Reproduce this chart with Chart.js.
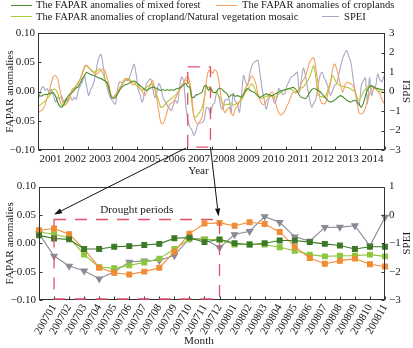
<!DOCTYPE html>
<html><head><meta charset="utf-8">
<script src="https://cdn.jsdelivr.net/npm/chart.js@4/dist/chart.umd.min.js"></script>
<style>
html,body{margin:0;padding:0;background:#fff;}
#wrap{position:relative;width:413px;height:348px;overflow:hidden;font-family:"Liberation Serif","Times New Roman",serif;color:#1a1a1a;}
canvas{position:absolute;left:0;}
.lg{position:absolute;font-size:10.6px;line-height:12px;white-space:nowrap;}
.sw{position:absolute;height:0;border-top:1.2px solid;}
</style></head><body>
<div id="wrap">
 <canvas id="top" width="413" height="178" style="top:0"></canvas>
 <canvas id="bot" width="413" height="172" style="top:176px"></canvas>
 <canvas id="ann" width="413" height="348" style="top:0"></canvas>
 <div class="sw" style="left:11px;top:5px;width:21px;border-color:#4b8b2f"></div>
 <div class="lg" style="left:36px;top:-1px">The FAPAR anomalies of mixed forest</div>
 <div class="sw" style="left:216px;top:5px;width:21px;border-color:#f5a261"></div>
 <div class="lg" style="left:242px;top:-1px">The FAPAR anomalies of croplands</div>
 <div class="sw" style="left:11px;top:16px;width:21px;border-color:#a8cc40"></div>
 <div class="lg" style="left:36px;top:10.5px">The FAPAR anomalies of cropland/Natural vegetation mosaic</div>
 <div class="sw" style="left:322px;top:16px;width:17px;border-color:#a8a8c0"></div>
 <div class="lg" style="left:344px;top:10.5px">SPEI</div>
</div>
<script>
// ---------- DATA ----------
const years = [2001,2002,2003,2004,2005,2006,2007,2008,2009,2010,2011,2012,2013,2014];
// monthly values, Jan 2001 .. Dec 2014
const mixedForest = [
 -0.007,-0.008,-0.006,-0.005,-0.005,-0.004,-0.003,-0.002,-0.008,-0.018,-0.025,-0.027,
 -0.022,-0.015,-0.008,-0.004,-0.002,0.002,0.006,0.008,0.015,0.022,0.027,0.033,
 0.031,0.029,0.028,0.027,0.025,0.023,0.022,0.020,0.018,0.015,0.003,-0.010,
 -0.012,-0.010,-0.004,0.002,0.007,0.010,0.012,0.013,0.015,0.017,0.018,0.016,
 0.013,0.010,0.007,0.004,0.002,0.004,0.006,0.007,0.007,0.005,0.003,0.002,
 0.003,0.002,0.003,0.002,0.003,0.002,0.004,0.005,0.006,0.008,0.011,0.014,
 0.0085,0.007,-0.010,-0.010,-0.006,-0.005,-0.003,-0.001,0.009,0.010,0.002,0.007,
 0.000,-0.002,0.000,0.005,0.005,0.002,-0.001,-0.004,-0.010,-0.006,-0.006,-0.008,
 -0.007,-0.008,-0.010,-0.005,0.002,0.005,0.003,0.000,-0.001,-0.004,-0.008,-0.010,
 -0.008,-0.006,-0.004,-0.005,-0.006,-0.007,-0.005,-0.003,-0.001,0.001,0.002,0.003,
 0.004,0.005,0.006,0.007,0.005,0.000,-0.006,-0.010,-0.011,-0.012,-0.008,-0.002,
 0.003,0.005,0.004,0.002,0.000,-0.004,-0.008,-0.012,-0.016,-0.018,-0.017,-0.015,
 -0.012,-0.009,-0.007,-0.009,-0.012,-0.015,-0.017,-0.018,-0.016,-0.015,-0.018,-0.022,
 -0.027,-0.020,-0.008,0.003,0.008,0.010,0.008,0.006,0.005,0.004,0.003,0.003
];
const croplands = [
 -0.035,-0.033,-0.030,-0.022,-0.010,0.002,0.015,0.026,0.027,0.022,0.005,-0.012,
 -0.024,-0.022,-0.017,-0.010,0.004,0.006,0.008,0.014,0.022,0.032,0.043,0.045,
 0.041,0.037,0.033,0.031,0.030,0.033,0.037,0.039,0.035,0.022,0.010,-0.008,
 -0.010,-0.005,0.000,0.006,0.012,0.020,0.022,0.020,0.018,0.012,0.011,0.016,
 0.012,0.004,0.000,-0.007,-0.002,0.005,0.012,0.019,0.005,-0.012,-0.035,-0.053,
 -0.055,-0.047,-0.035,-0.024,-0.020,-0.018,-0.012,-0.004,0.002,0.010,0.015,0.023,
 0.026,0.016,-0.010,-0.043,-0.052,-0.055,-0.050,-0.043,-0.015,0.017,0.035,0.036,
 0.031,0.037,0.034,0.020,-0.006,-0.026,-0.036,-0.031,-0.027,-0.037,-0.041,-0.030,
 -0.025,-0.018,-0.010,-0.004,0.006,0.013,0.020,0.027,0.022,0.013,-0.005,-0.015,
 -0.021,-0.022,-0.016,-0.010,-0.003,-0.001,-0.012,-0.025,-0.036,-0.040,-0.038,-0.033,
 -0.025,-0.018,-0.008,-0.001,-0.003,0.000,0.005,0.014,0.020,0.026,0.038,0.050,
 0.055,0.058,0.040,0.015,-0.012,-0.020,-0.021,-0.018,0.000,0.012,0.035,0.047,
 0.040,0.025,0.010,-0.001,0.010,0.016,0.015,0.013,0.010,0.000,-0.020,-0.037,
 -0.038,-0.036,-0.028,-0.016,-0.005,0.005,0.007,0.005,0.000,-0.004,-0.014,-0.020
];
const mosaic = [
 -0.024,-0.022,-0.019,-0.016,-0.012,-0.008,-0.002,0.004,0.003,-0.003,-0.015,-0.024,
 -0.022,-0.018,-0.013,-0.007,0.001,0.005,0.010,0.016,0.022,0.030,0.040,0.044,
 0.041,0.038,0.035,0.033,0.035,0.039,0.036,0.030,0.020,0.010,0.002,-0.008,
 -0.010,-0.007,-0.003,0.003,0.010,0.015,0.020,0.022,0.020,0.017,0.014,0.011,
 0.008,0.005,0.002,0.004,0.007,0.010,0.012,0.013,0.005,-0.006,-0.017,-0.027,
 -0.026,-0.022,-0.018,-0.015,-0.012,-0.010,-0.006,-0.002,0.003,0.008,0.014,0.020,
 0.016,0.010,-0.020,-0.042,-0.044,-0.039,-0.034,-0.027,-0.010,0.007,0.007,0.006,
 -0.002,-0.002,-0.002,-0.007,-0.013,-0.020,-0.023,-0.022,-0.022,-0.020,-0.023,-0.022,
 -0.020,-0.018,-0.015,-0.008,-0.001,0.004,0.009,0.013,0.008,0.000,-0.005,-0.010,
 -0.012,-0.010,-0.008,-0.007,-0.008,-0.009,-0.010,-0.009,-0.005,-0.002,0.000,0.003,
 0.004,0.005,0.004,0.002,0.000,-0.001,0.003,0.006,0.008,0.013,0.018,0.025,
 0.035,0.044,0.025,-0.005,-0.008,-0.009,-0.010,-0.006,0.005,0.015,0.027,0.022,
 0.015,0.012,0.010,0.009,0.008,0.007,0.006,0.004,0.002,-0.001,-0.010,-0.015,
 -0.008,-0.001,0.004,0.008,0.010,0.009,0.006,0.004,0.002,0.000,-0.001,-0.001
];
const spei = [
 -0.30,0.10,0.25,0.05,0.15,-0.10,0.10,-0.20,-0.55,-0.30,-0.35,-0.25,
 -0.55,-0.35,-0.50,-0.20,-0.45,-0.30,-0.40,0.05,0.30,0.50,0.80,0.30,
 -0.20,0.10,0.30,0.70,1.30,1.75,1.90,1.35,0.60,0.20,-0.20,-0.40,
 -0.55,-0.65,0.10,0.50,0.45,0.50,0.60,0.55,0.80,1.10,1.40,0.90,
 0.10,-0.20,-0.55,-0.10,0.40,0.55,0.65,0.20,-0.30,-0.05,0.40,0.20,
 -0.30,-0.50,-0.70,-0.85,-0.98,-0.70,-0.45,-0.60,0.20,0.75,0.50,-0.66,
 -1.45,-1.80,-1.97,-2.25,-2.00,-1.66,-1.62,-1.60,-1.43,-0.83,-0.85,-1.15,
 -0.69,-0.575,-0.06,-0.26,-0.77,-0.92,-0.44,-0.43,-0.38,-1.09,-0.08,-0.50,
 -0.60,-1.07,-0.20,0.83,0.50,0.30,0.90,1.30,1.50,1.55,1.60,0.90,
 0.15,-0.40,-0.90,-0.50,-0.20,-0.30,-0.60,-0.40,0.15,0.00,-0.15,-0.10,
 0.30,0.50,0.75,0.80,0.90,1.00,-0.05,0.60,1.20,0.80,0.20,-0.40,
 -0.80,-0.60,-0.40,0.20,0.80,1.00,0.70,0.50,0.20,-0.20,0.00,0.30,
 0.40,0.80,1.30,1.70,1.95,2.10,1.80,1.50,0.70,0.05,-0.40,-0.70,
 0.30,0.55,0.70,-0.65,0.70,-0.20,0.15,0.30,0.90,0.60,0.50,0.80
];
// zoomed window (lower panel)
const zoomMonths = ['200612','200701','200702','200703','200704','200705','200706','200707','200708','200709','200710','200711','200712',
 '200801','200802','200803','200804','200805','200806','200807','200808','200809','200810','200811'];
const droughtMonths = ['200701','200712'];
const faparTickValues = [-0.10,-0.05,0.00,0.05,0.10];
const speiTopTicks = [-3,-2,-1,0,1,2,3];
const speiBottomTicks = [-3,-2,-1,0,1];

// ---------- helpers ----------
const SERIF = "'Liberation Serif','Times New Roman',serif";
Chart.defaults.font.family = SERIF;
Chart.defaults.font.size = 11;
Chart.defaults.color = '#1a1a1a';
const minus = s => s.replace('-', '\u2212');
const monthIndexOf = ym => (parseInt(ym.slice(0,4)) - years[0]) * 12 + parseInt(ym.slice(4)) - 1;
const monthTime = i => years[0] + (i + 0.5) / 12;
const zoomStart = monthIndexOf(zoomMonths[0]);
const zoomSlice = arr => arr.slice(zoomStart, zoomStart + zoomMonths.length);
const toXY = arr => arr.map((v, i) => ({x: monthTime(i), y: v}));

const COL = {forest:'#4b8b2f', crop:'#f5a261', mosaic:'#b6c836', spei:'#a8a8c4'};
const MCOL = {forest:'#3c7a28', crop:'#f08c34', mosaic:'#8cc63c', spei:'#8a8a98'};

const framePlugin = {
  id: 'frame',
  afterDatasetsDraw(chart) {
    const {ctx, chartArea: a} = chart;
    ctx.save();
    ctx.strokeStyle = '#333';
    ctx.lineWidth = 1;
    const L = Math.round(a.left) + 0.5, R = Math.round(a.right) - 0.5;
    const T = Math.round(a.top) + 0.5, B = Math.round(a.bottom) - 0.5;
    ctx.strokeRect(L, T, R - L, B - T);
    const len = 3;
    ctx.beginPath();
    for (const id of Object.keys(chart.scales)) {
      const s = chart.scales[id];
      s.ticks.forEach((t, i) => {
        const p = Math.round(s.getPixelForTick(i)) + 0.5;
        if (s.isHorizontal()) {
          ctx.moveTo(p, B); ctx.lineTo(p, B - len);
        } else if (s.position === 'left') {
          ctx.moveTo(L, p); ctx.lineTo(L + len, p);
        } else {
          ctx.moveTo(R, p); ctx.lineTo(R - len, p);
        }
      });
    }
    ctx.stroke();
    ctx.restore();
  }
};

const yAxisCommon = (ticksArr, fmt, pos, w) => ({
  position: pos,
  grid: {display: false, drawTicks: false},
  border: {display: false},
  afterFit: s => { s.width = w; },
  afterBuildTicks: s => { s.ticks = ticksArr.map(v => ({value: v})); },
  ticks: {padding: pos === 'left' ? 3 : 4, callback: fmt, font: {size: 11}}
});
const faparFmt = v => minus(Number(v).toFixed(2));
const speiFmt = v => minus(String(Math.round(v)));

// ---------- upper chart ----------
const topChart = new Chart(document.getElementById('top'), {
  type: 'line',
  data: {
    datasets: [
      {label: 'The FAPAR anomalies of mixed forest', data: toXY(mixedForest), borderColor: COL.forest, yAxisID: 'y'},
      {label: 'The FAPAR anomalies of croplands', data: toXY(croplands), borderColor: COL.crop, yAxisID: 'y'},
      {label: 'The FAPAR anomalies of cropland/Natural vegetation mosaic', data: toXY(mosaic), borderColor: COL.mosaic, yAxisID: 'y'},
      {label: 'SPEI', data: toXY(spei), borderColor: COL.spei, yAxisID: 'y1'}
    ]
  },
  options: {
    responsive: false, animation: false,
    layout: {padding: {top: 33, left: 0, right: 0, bottom: 0}},
    elements: {line: {borderWidth: 1.1, tension: 0.3}, point: {radius: 0}},
    plugins: {legend: {display: false}, tooltip: {enabled: false}},
    scales: {
      x: {
        type: 'linear', min: years[0], max: years[years.length-1] + 1,
        grid: {display: false, drawTicks: false}, border: {display: false},
        afterFit: s => { s.height = 28; },
        ticks: {stepSize: 1, autoSkip: false, maxRotation: 0, padding: 3, labelOffset: 12.4,
          callback: v => (years.includes(v) ? String(v) : '')}
      },
      y: Object.assign(yAxisCommon(faparTickValues, faparFmt, 'left', 38), {min: -0.1, max: 0.1,
        title: {display: true, text: 'FAPAR anomalies', padding: {top: 3, bottom: 0}, font: {size: 11.2}}}),
      y1: Object.assign(yAxisCommon(speiTopTicks, speiFmt, 'right', 28), {min: -3, max: 3})
    }
  },
  plugins: [framePlugin]
});

// ---------- lower chart ----------
const mk = (label, arr, col, style, r, yAxisID) => ({
  label, data: zoomSlice(arr), borderColor: col, backgroundColor: col, pointBackgroundColor: col,
  pointBorderColor: col, pointStyle: style, pointRadius: r, pointRotation: style === 'triangle' ? 180 : 0,
  borderWidth: 1.1, yAxisID
});
const botChart = new Chart(document.getElementById('bot'), {
  type: 'line',
  data: {
    labels: zoomMonths,
    datasets: [
      mk('mixed forest', mixedForest, MCOL.forest, 'rect', 3.4, 'y'),
      mk('croplands', croplands, MCOL.crop, 'rect', 3.4, 'y'),
      mk('mosaic', mosaic, MCOL.mosaic, 'rect', 3.4, 'y'),
      mk('SPEI', spei, MCOL.spei, 'triangle', 3.6, 'y1')
    ]
  },
  options: {
    responsive: false, animation: false,
    layout: {padding: {top: 8, left: 0, right: 0, bottom: 0}},
    plugins: {legend: {display: false}, tooltip: {enabled: false}},
    scales: {
      x: {
        type: 'category', offset: false,
        grid: {display: false, drawTicks: false}, border: {display: false},
        afterFit: s => { s.height = 48; },
        ticks: {autoSkip: false, minRotation: 60, maxRotation: 60, padding: 2, font: {size: 11},
          callback: (v, i) => (i === 0 ? '' : zoomMonths[i])}
      },
      y: Object.assign(yAxisCommon(faparTickValues, faparFmt, 'left', 39), {min: -0.1, max: 0.1,
        title: {display: true, text: 'FAPAR anomalies', padding: {top: 3, bottom: 0}, font: {size: 11.2}}}),
      y1: Object.assign(yAxisCommon(speiBottomTicks, speiFmt, 'right', 28), {min: -3, max: 1})
    }
  },
  plugins: [framePlugin]
});

// ---------- annotations (titles, drought boxes, arrows) ----------
(function annotate() {
  const ctx = document.getElementById('ann').getContext('2d');
  const botTop = 176;
  const tA = topChart.chartArea, bA = botChart.chartArea;
  ctx.fillStyle = '#1a1a1a';
  ctx.font = '11.2px ' + SERIF;
  ctx.textAlign = 'center'; ctx.textBaseline = 'middle';
  ctx.fillText('Year', (tA.left + tA.right) / 2 - 13, 171);
  ctx.fillText('Month', (bA.left + bA.right) / 2 - 13, botTop + 165);
  const vtitle = (x, y) => { ctx.save(); ctx.translate(x, y); ctx.rotate(-Math.PI/2); ctx.fillText('SPEI', 0, 0); ctx.restore(); };
  vtitle(407, (tA.top + tA.bottom) / 2);
  vtitle(407, botTop + (bA.top + bA.bottom) / 2);

  const i0 = monthIndexOf(droughtMonths[0]), i1 = monthIndexOf(droughtMonths[1]);
  const tx = topChart.scales.x, ty = topChart.scales.y;
  const bx = botChart.scales.x, by = botChart.scales.y;
  const tL = tx.getPixelForValue(monthTime(i0)), tR = tx.getPixelForValue(monthTime(i1));
  const tT = ty.getPixelForValue(0.042), tB = ty.getPixelForValue(-0.095);
  const bL = bx.getPixelForValue(zoomMonths.indexOf(droughtMonths[0]));
  const bR = bx.getPixelForValue(zoomMonths.indexOf(droughtMonths[1]));
  const bT = botTop + by.getPixelForValue(0.042), bB = botTop + by.getPixelForValue(-0.1);

  ctx.save();
  ctx.strokeStyle = '#e0526a'; ctx.lineWidth = 1.3; ctx.setLineDash([12, 9]);
  ctx.strokeRect(tL, tT, tR - tL, tB - tT);
  ctx.strokeRect(bL, bT, bR - bL, bB - bT - 1);
  ctx.restore();

  ctx.fillText('Drought periods', (bL + bR) / 2, bT - 9);

  const arrow = (x0, y0, x1, y1) => {
    ctx.save();
    ctx.strokeStyle = '#111'; ctx.fillStyle = '#111'; ctx.lineWidth = 1;
    const ang = Math.atan2(y1 - y0, x1 - x0), L = 8, W = 2.6;
    const bx0 = x1 - L * Math.cos(ang), by0 = y1 - L * Math.sin(ang);
    ctx.beginPath(); ctx.moveTo(x0, y0); ctx.lineTo(bx0, by0); ctx.stroke();
    ctx.beginPath(); ctx.moveTo(x1, y1);
    ctx.lineTo(bx0 + W * Math.sin(ang), by0 - W * Math.cos(ang));
    ctx.lineTo(bx0 - W * Math.sin(ang), by0 + W * Math.cos(ang));
    ctx.closePath(); ctx.fill();
    ctx.restore();
  };
  arrow(tL - 2, tB + 1, bL, bT - 5);
  arrow(tR, tB, bR - 1, bT - 3);
})();
</script>
</body></html>
